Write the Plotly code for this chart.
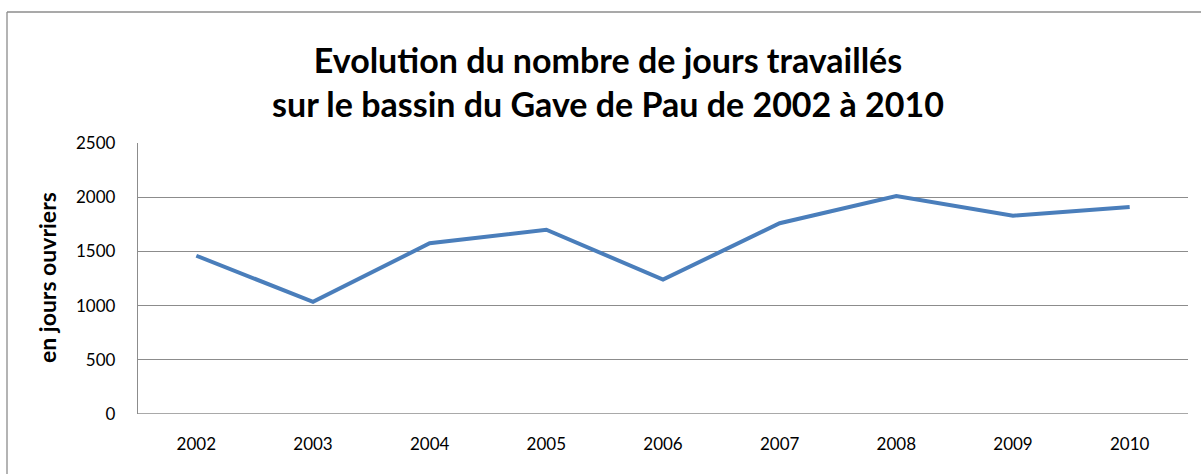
import plotly.graph_objects as go

years = ["2002", "2003", "2004", "2005", "2006", "2007", "2008", "2009", "2010"]
jours = [1460, 1035, 1575, 1700, 1240, 1760, 2010, 1830, 1910]
y_ticks = [0, 500, 1000, 1500, 2000, 2500]

W, H = 1201, 474
L, R, T, B = 138, 1188, 143, 414

fig = go.Figure()
fig.add_trace(go.Scatter(
    x=years, y=jours, mode="lines",
    line=dict(color="#4A7EBB", width=4),
    hoverinfo="skip", showlegend=False,
))

def px_x(px):
    return (px - L) / (R - L)

def px_y(py):
    return (B - py) / (B - T)

font_family = "Lato, Carlito, Calibri, sans-serif"
border = dict(color="#8C8C8C", width=1.3)

fig.update_layout(
    width=W, height=H,
    margin=dict(l=L, r=W - R, t=T, b=H - B, autoexpand=False),
    paper_bgcolor="white", plot_bgcolor="white",
    font=dict(family=font_family, color="black"),
    title=dict(
        text="<b>Evolution du nombre de jours travaillés<br>sur le bassin du Gave de Pau de 2002 à 2010</b>",
        x=608 / W, xanchor="center", y=1 - 73 / H, yanchor="middle",
        font=dict(size=34, family=font_family, color="black"),
    ),
    xaxis=dict(
        type="category", range=[-0.5, 8.5], showgrid=False, showline=False, zeroline=False,
        ticks="", tickfont=dict(size=17), ticklabelstandoff=18, automargin=False,
    ),
    yaxis=dict(
        range=[0, 2500], tickvals=y_ticks, showgrid=True, gridcolor="#8C8C8C",
        gridwidth=1.3, zeroline=False, showline=True, linecolor="#8C8C8C", linewidth=1.3,
        ticks="", tickfont=dict(size=17), ticklabelstandoff=18, automargin=False,
        title=dict(text=""),
    ),
    shapes=[
        dict(type="line", xref="paper", yref="paper",
             x0=px_x(7), x1=px_x(1215), y0=px_y(12), y1=px_y(12), line=border),
        dict(type="line", xref="paper", yref="paper",
             x0=px_x(7), x1=px_x(7), y0=px_y(12), y1=px_y(490), line=border),
        dict(type="line", xref="paper", yref="y", x0=0, x1=1, y0=0, y1=0, line=border),
    ],
    annotations=[
        dict(text="<b>en jours ouvriers</b>", xref="paper", yref="paper",
             x=px_x(47), y=px_y(278), xanchor="center", yanchor="middle",
             textangle=-90, showarrow=False, font=dict(size=23, color="black")),
    ],
)

fig.write_html(
    "out.html",
    config={"displayModeBar": False},
    post_script=(
        "var s=document.createElement('style');"
        "s.textContent='html,body{margin:0;padding:0;overflow:hidden;scrollbar-width:none;}"
        "::-webkit-scrollbar{display:none;width:0;height:0;}';"
        "document.head.appendChild(s);"
        "window.scrollTo(0,0);"
    ),
)
